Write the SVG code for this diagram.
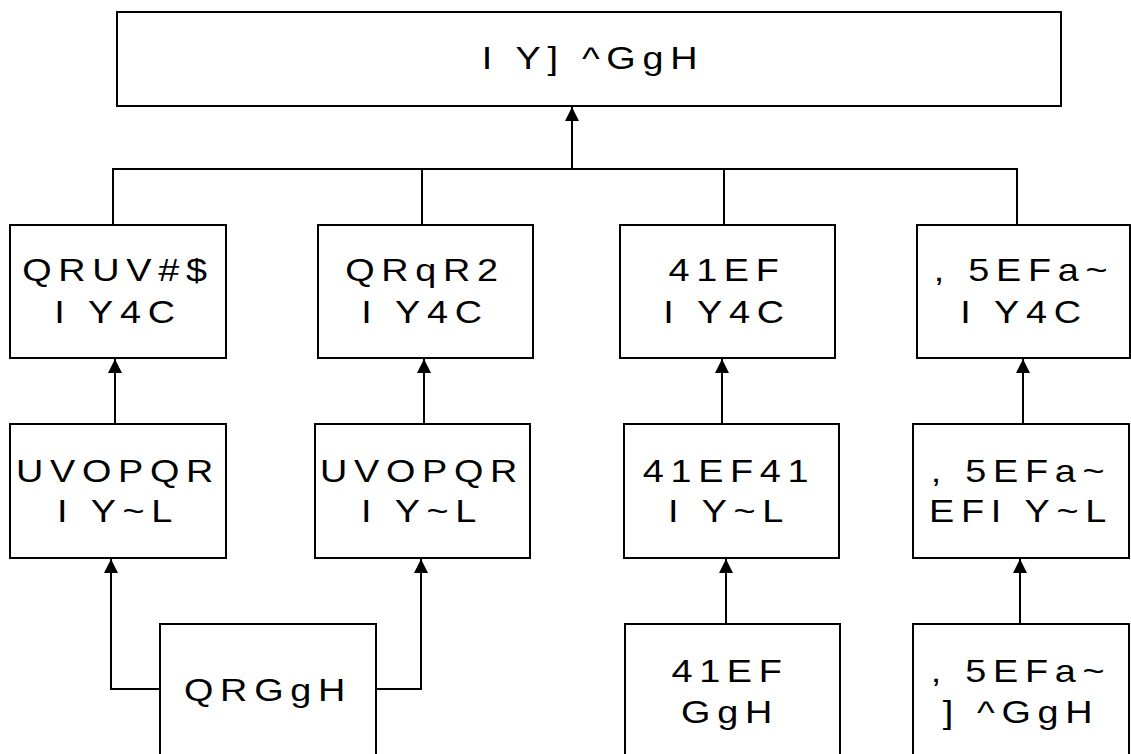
<svg xmlns="http://www.w3.org/2000/svg" width="1131" height="754" viewBox="0 0 1131 754">
<style>
.box{fill:#fff;stroke:#000;stroke-width:2}
.t{font-family:"Liberation Sans",Arial,sans-serif;font-size:31px;letter-spacing:5.5px;fill:#000;text-anchor:middle}
.c{fill:none;stroke:#000;stroke-width:2}
</style>
<defs>
<marker id="ah" markerUnits="userSpaceOnUse" markerWidth="14" markerHeight="16" refX="14" refY="7" orient="auto" viewBox="0 0 14 14">
<path d="M0,0 L14,7 L0,14 z" fill="#000"/>
</marker>
</defs>
<rect width="1131" height="754" fill="#fff"/>
<g id="connectors">
<path class="c" d="M113 225 V169 H1017 V225 M422 169 V225 M724 169 V225"/>
<path class="c" d="M572 169 V107" marker-end="url(#ah)"/>
<path class="c" d="M115 424 V359" marker-end="url(#ah)"/>
<path class="c" d="M424 424 V359" marker-end="url(#ah)"/>
<path class="c" d="M722 424 V359" marker-end="url(#ah)"/>
<path class="c" d="M1023 424 V359" marker-end="url(#ah)"/>
<path class="c" d="M160 689 H111 V559" marker-end="url(#ah)"/>
<path class="c" d="M376 689 H421 V559" marker-end="url(#ah)"/>
<path class="c" d="M726 624 V559" marker-end="url(#ah)"/>
<path class="c" d="M1020 624 V559" marker-end="url(#ah)"/>
</g>
<g id="n-top">
<rect class="box" x="117" y="12" width="944" height="94"/>
<text class="t" transform="translate(593,0) scale(1.22,1)" y="69">I Y] ^GgH</text>
</g>
<g id="n-r2a">
<rect class="box" x="10" y="225" width="216" height="133"/>
<text class="t" transform="translate(118,0) scale(1.22,1)" y="281">QRUV#$</text>
<text class="t" transform="translate(118,0) scale(1.22,1)" y="323">I Y4C</text>
</g>
<g id="n-r2b">
<rect class="box" x="318" y="225" width="215" height="133"/>
<text class="t" transform="translate(425,0) scale(1.22,1)" y="281">QRqR2</text>
<text class="t" transform="translate(425,0) scale(1.22,1)" y="323">I Y4C</text>
</g>
<g id="n-r2c">
<rect class="box" x="620" y="225" width="215" height="133"/>
<text class="t" transform="translate(727,0) scale(1.22,1)" y="281">41EF</text>
<text class="t" transform="translate(727,0) scale(1.22,1)" y="323">I Y4C</text>
</g>
<g id="n-r2d">
<rect class="box" x="917" y="225" width="213" height="133"/>
<text class="t" transform="translate(1024,0) scale(1.22,1)" y="281">, 5EFa~</text>
<text class="t" transform="translate(1024,0) scale(1.22,1)" y="323">I Y4C</text>
</g>
<g id="n-r3a">
<rect class="box" x="10" y="424" width="216" height="134"/>
<text class="t" transform="translate(118,0) scale(1.22,1)" y="482">UVOPQR</text>
<text class="t" transform="translate(118,0) scale(1.22,1)" y="522">I Y~L</text>
</g>
<g id="n-r3b">
<rect class="box" x="315" y="424" width="215" height="134"/>
<text class="t" transform="translate(422,0) scale(1.22,1)" y="482">UVOPQR</text>
<text class="t" transform="translate(422,0) scale(1.22,1)" y="522">I Y~L</text>
</g>
<g id="n-r3c">
<rect class="box" x="624" y="424" width="215" height="134"/>
<text class="t" transform="translate(729,0) scale(1.22,1)" y="482">41EF41</text>
<text class="t" transform="translate(729,0) scale(1.22,1)" y="522">I Y~L</text>
</g>
<g id="n-r3d">
<rect class="box" x="913" y="424" width="216" height="134"/>
<text class="t" transform="translate(1021,0) scale(1.22,1)" y="482">, 5EFa~</text>
<text class="t" transform="translate(1021,0) scale(1.22,1)" y="522">EFI Y~L</text>
</g>
<g id="n-r4a">
<rect class="box" x="160" y="624" width="216" height="160"/>
<text class="t" transform="translate(268,0) scale(1.22,1)" y="701">QRGgH</text>
</g>
<g id="n-r4b">
<rect class="box" x="625" y="624" width="215" height="160"/>
<text class="t" transform="translate(730,0) scale(1.22,1)" y="682">41EF</text>
<text class="t" transform="translate(730,0) scale(1.22,1)" y="723">GgH</text>
</g>
<g id="n-r4c">
<rect class="box" x="913" y="624" width="216" height="160"/>
<text class="t" transform="translate(1021,0) scale(1.22,1)" y="682">, 5EFa~</text>
<text class="t" transform="translate(1021,0) scale(1.22,1)" y="723">] ^GgH</text>
</g>
</svg>
